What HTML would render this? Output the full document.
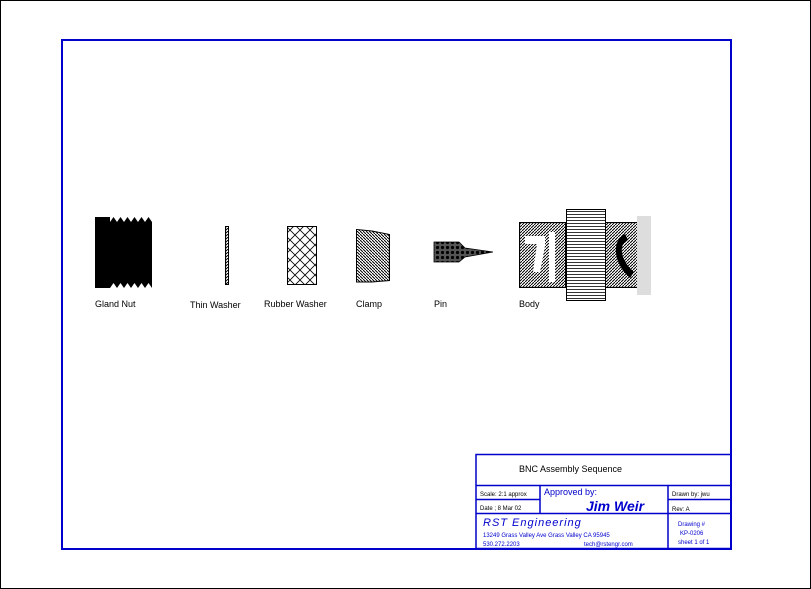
<!DOCTYPE html>
<html><head><style>
body{margin:0;background:#fff}
svg{display:block}
text{font-family:"Liberation Sans",sans-serif;}
</style></head><body>
<svg width="811" height="589" viewBox="0 0 811 589" xmlns="http://www.w3.org/2000/svg">
<defs>
<pattern id="diag" width="3" height="3" patternUnits="userSpaceOnUse"><rect width="3" height="3" fill="#fff"/><path d="M0,3 L3,0" stroke="#000" stroke-width="1"/></pattern>
<pattern id="diag2" width="3" height="3" patternUnits="userSpaceOnUse"><rect width="3" height="3" fill="#fff"/><path d="M0,0 L3,3" stroke="#000" stroke-width="1"/></pattern>
<pattern id="cross" width="10" height="10" patternUnits="userSpaceOnUse"><rect width="10" height="10" fill="#fff"/><path d="M0,0 L10,10 M10,0 L0,10" stroke="#000" stroke-width="0.8"/></pattern>
<pattern id="dots" width="5" height="5" patternUnits="userSpaceOnUse"><rect width="5" height="5" fill="#555"/><circle cx="2.5" cy="2.5" r="1.6" fill="#000"/></pattern>
<pattern id="hl" width="4" height="3" patternUnits="userSpaceOnUse"><rect width="4" height="3" fill="#fff"/><path d="M0,1.5 H4" stroke="#000" stroke-width="0.8"/></pattern>
</defs>
<rect x="0.5" y="0.5" width="810" height="588" fill="#fff" stroke="#000"/>
<rect x="62" y="40" width="669" height="509" fill="none" stroke="#00c" stroke-width="2"/>

<!-- Gland nut -->
<path d="M95,222 H110 l3.5,-5 3.5,5 3.5,-5 3.5,5 3.5,-5 3.5,5 3.5,-5 3.5,5 3.5,-5 3.5,5 3.5,-5 3.5,5 V288 l-3.5,-5 -3.5,5 -3.5,-5 -3.5,5 -3.5,-5 -3.5,5 -3.5,-5 -3.5,5 -3.5,-5 -3.5,5 -3.5,-5 -3.5,5 H95 Z" fill="#000"/>
<rect x="95" y="217" width="15" height="5" fill="#000"/>
<!-- thin washer -->
<rect x="225.5" y="226.5" width="3" height="58" fill="url(#diag)" stroke="#000"/>
<!-- rubber washer -->
<rect x="287.5" y="226.5" width="29" height="58" fill="url(#cross)" stroke="#000"/>
<!-- clamp -->
<path d="M356.5,229.5 L372,231 L389.5,234.5 V280.5 L372,282 L356.5,282 Z" fill="url(#diag2)" stroke="#000"/>
<!-- pin -->
<path d="M434,242 H459 L465,248 L493,252 L465,257 L459,262 H434 Z" fill="url(#dots)" stroke="#000" stroke-width="0.8"/>
<!-- body -->
<rect x="519.5" y="222.5" width="46" height="65" fill="url(#diag)" stroke="#000"/>
<path d="M525,236 H545 V246 L540,272 H533 L537,244 H525Z" fill="#fff"/>
<rect x="549" y="232" width="6" height="50" fill="#fff"/>
<rect x="605" y="222.5" width="33" height="65" fill="url(#diag)" stroke="#000"/>
<path d="M625,234 C612,240 612,262 630,278 L634,272 C620,260 618,244 628,240 Z" fill="#000"/>
<rect x="566.5" y="209.5" width="39" height="91" fill="url(#hl)" stroke="#000"/>
<rect x="637" y="216" width="14" height="79" fill="#ddd"/>

<g font-size="9" fill="#000">
<text x="95" y="307">Gland Nut</text>
<text x="190" y="308">Thin Washer</text>
<text x="264" y="307">Rubber Washer</text>
<text x="356" y="307">Clamp</text>
<text x="434" y="307">Pin</text>
<text x="519" y="307">Body</text>
</g>

<!-- title block -->
<g stroke="#00c" stroke-width="1.5" fill="none">
<rect x="476" y="454.5" width="255" height="94"/>
<line x1="476" y1="485.5" x2="731" y2="485.5"/>
<line x1="476" y1="499.5" x2="540" y2="499.5"/>
<line x1="668" y1="499.5" x2="731" y2="499.5"/>
<line x1="476" y1="513.5" x2="731" y2="513.5"/>
<line x1="540" y1="485" x2="540" y2="513"/>
<line x1="668" y1="485" x2="668" y2="549"/>
</g>
<g font-size="7" fill="#000">
<text x="519" y="472" font-size="9">BNC Assembly Sequence</text>
<text x="480" y="496" font-size="6">Scale: 2:1 approx</text>
<text x="480" y="510" font-size="6">Date ; 8 Mar 02</text>
<text x="544" y="495" font-size="9" fill="#00c">Approved by:</text>
<text x="586" y="511" font-size="14" fill="#00c" font-style="italic" font-family="Liberation Serif,serif" font-weight="bold">Jim Weir</text>
<text x="672" y="496" font-size="6">Drawn by: jwu</text>
<text x="672" y="511" font-size="6">Rev:     A</text>
<text x="483" y="526" font-size="11" fill="#00c" font-style="italic" letter-spacing="1">RST Engineering</text>
<text x="483" y="537" font-size="6" fill="#00c">13249 Grass Valley Ave  Grass Valley CA  95945</text>
<text x="483" y="546" font-size="6" fill="#00c">530.272.2203</text>
<text x="584" y="546" font-size="6" fill="#00c">tech@rstengr.com</text>
<text x="678" y="526" font-size="6" fill="#00c">Drawing #</text>
<text x="680" y="535" font-size="6" fill="#00c">KP-0206</text>
<text x="678" y="544" font-size="6" fill="#00c">sheet 1 of 1</text>
</g>
</svg>
</body></html>
